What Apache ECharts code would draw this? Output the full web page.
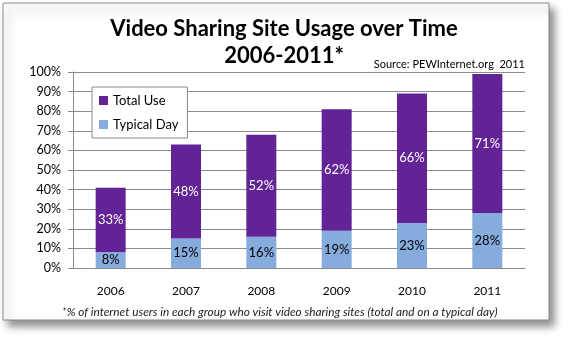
<!DOCTYPE html>
<html><head><meta charset="utf-8">
<script src="https://cdn.jsdelivr.net/npm/echarts@6/dist/echarts.min.js"></script>
<style>html,body{margin:0;padding:0;background:#fff}#c{width:568px;height:339px}</style>
</head><body><div id="c"></div>
<script>
const categories = ['2006','2007','2008','2009','2010','2011'];
const typicalDay = [8, 15, 16, 19, 23, 28];
const totalUseExtra = [33, 48, 52, 62, 66, 71];
const yTicks = [0,10,20,30,40,50,60,70,80,90,100];
const titleText = 'Video Sharing Site Usage over Time\n2006-2011*';
const sourceText = 'Source: PEWInternet.org  2011';
const footText = '*% of internet users in each group who visit video sharing sites (total and on a typical day)';
const FONT = 'Lato';
const chart = echarts.init(document.getElementById('c'));
chart.setOption({
  animation: false,
  title: { text: titleText, left: 'center', top: 10, itemGap: 0,
    textStyle: { fontFamily: FONT, fontWeight: 'bold', fontSize: 22, lineHeight: 27, color: '#000' } },
  graphic: [
    { type: 'rect', z: -10, shape: { x: 3, y: 3, width: 546, height: 317 },
      style: { fill: '#fff', stroke: '#8a8a8a', lineWidth: 1, shadowBlur: 8, shadowOffsetX: 5, shadowOffsetY: 6, shadowColor: 'rgba(0,0,0,0.45)' } },
    { type: 'text', right: 43, top: 59, style: { text: sourceText, font: '11px ' + FONT, fill: '#000' } },
    { type: 'text', left: 62, top: 306, style: { text: footText, font: 'italic 11.8px ' + FONT, fill: '#222' } }
  ],
  legend: { orient: 'vertical', left: 92, top: 87, data: ['Total Use', 'Typical Day'],
    backgroundColor: '#fff', borderColor: '#888', borderWidth: 1, padding: [7, 9, 7, 7], itemGap: 11,
    icon: 'rect', itemWidth: 9, itemHeight: 9,
    textStyle: { fontFamily: FONT, fontSize: 13, color: '#000' } },
  grid: { left: 73, right: 43, top: 72, bottom: 71 },
  xAxis: { type: 'category', data: categories,
    axisLine: { lineStyle: { color: '#888' } },
    axisTick: { length: 5, lineStyle: { color: '#888' } },
    axisLabel: { margin: 17, fontFamily: FONT, fontSize: 12, color: '#000' } },
  yAxis: { type: 'value', min: 0, max: 100, interval: 10,
    axisLine: { show: true, lineStyle: { color: '#888' } },
    axisTick: { show: true, length: 5, lineStyle: { color: '#888' } },
    splitLine: { lineStyle: { color: '#8a8a8a' } },
    axisLabel: { formatter: '{value}%', margin: 12, fontFamily: FONT, fontSize: 12.5, color: '#000' } },
  series: [
    { name: 'Typical Day', type: 'bar', stack: 's', barWidth: 30, data: typicalDay,
      itemStyle: { color: '#86ACDE' },
      label: { show: true, position: 'inside', formatter: '{c}%', fontFamily: FONT, fontSize: 13, color: '#000' } },
    { name: 'Total Use', type: 'bar', stack: 's', barWidth: 30, data: totalUseExtra,
      itemStyle: { color: '#612396' },
      label: { show: true, position: 'inside', formatter: '{c}%', fontFamily: FONT, fontSize: 13, color: '#fff' } }
  ]
});
</script></body></html>
